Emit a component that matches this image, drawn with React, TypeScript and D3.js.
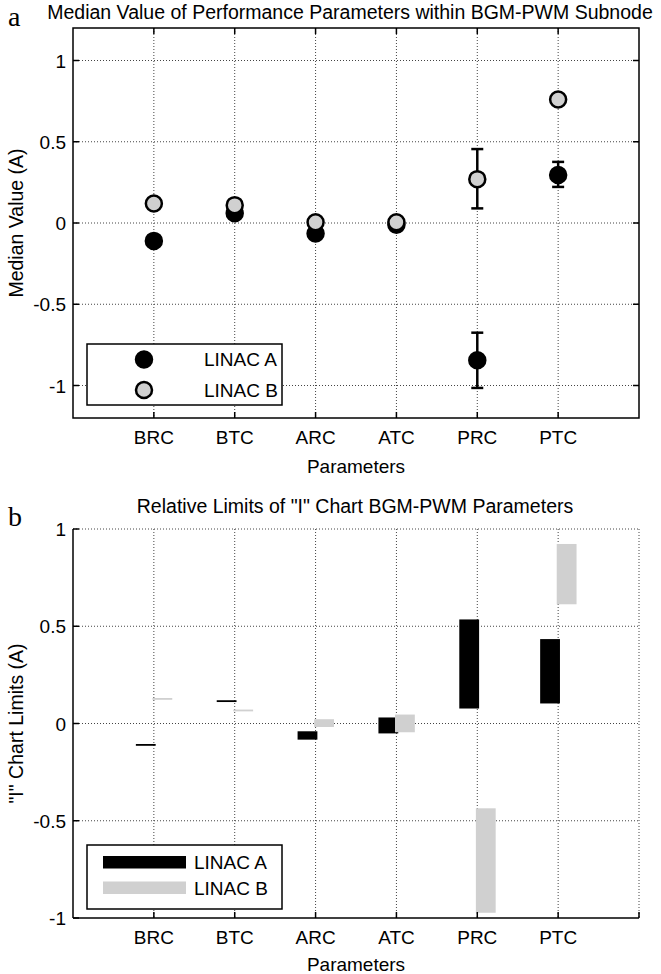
import React from "react";
import * as d3 from "d3";

const categories = ["BRC", "BTC", "ARC", "ATC", "PRC", "PTC"];
const medianA = [-0.11, 0.06, -0.065, -0.01, -0.845, 0.295];
const medianB = [0.12, 0.11, 0.005, 0.005, 0.27, 0.76];
const errLowA: (number | null)[] = [null, null, null, null, -1.015, 0.222];
const errHighA: (number | null)[] = [null, null, null, null, -0.675, 0.376];
const errLowB: (number | null)[] = [null, null, null, null, 0.09, null];
const errHighB: (number | null)[] = [null, null, null, null, 0.455, null];

const limLowA = [-0.112, 0.113, -0.083, -0.051, 0.077, 0.103];
const limHighA = [-0.108, 0.117, -0.04, 0.031, 0.535, 0.434];
const limLowB = [0.125, 0.066, -0.018, -0.045, -0.973, 0.613];
const limHighB = [0.128, 0.068, 0.022, 0.046, -0.436, 0.923];

const yTicks = [-1, -0.5, 0, 0.5, 1];
const yTickLabels = ["-1", "-0.5", "0", "0.5", "1"];
const seriesNames = ["LINAC A", "LINAC B"];

const FONT = "'Liberation Sans', Arial, sans-serif";
const GRAY = "#d0d0d0";
const W = 661;
const H = 974;
const L = 73;
const R = 639;

export default function App() {
  const x = d3.scaleLinear().domain([0, 7]).range([L, R]);
  const y1 = d3.scaleLinear().domain([-1.2, 1.2]).range([418, 28]);
  const y2 = d3.scaleLinear().domain([-1, 1]).range([918, 529]);
  const idx = categories.map((_, i) => i + 1);
  const grid = { stroke: "#444", strokeWidth: 1, strokeDasharray: "1 2" };
  const bw = 0.245;

  const errBars = (lo: (number | null)[], hi: (number | null)[], key: string) =>
    idx.map((c, i) => {
      const a = lo[i];
      const b = hi[i];
      if (a === null || b === null) return null;
      const cx = x(c);
      return (
        <g key={key + i} stroke="#000" strokeWidth={2.5}>
          <line x1={cx} x2={cx} y1={y1(a)} y2={y1(b)} />
          <line x1={cx - 6} x2={cx + 6} y1={y1(a)} y2={y1(a)} />
          <line x1={cx - 6} x2={cx + 6} y1={y1(b)} y2={y1(b)} />
        </g>
      );
    });

  const bars = (lo: number[], hi: number[], off: number, fill: string, key: string) =>
    idx.map((c, i) => {
      const top = y2(Math.max(lo[i], hi[i]));
      const bot = y2(Math.min(lo[i], hi[i]));
      const h = Math.max(bot - top, 1.8);
      return (
        <rect
          key={key + i}
          x={x(c + off - bw / 2)}
          width={x(bw) - x(0)}
          y={(top + bot) / 2 - h / 2}
          height={h}
          fill={fill}
        />
      );
    });

  return (
    <svg width={W} height={H} style={{ position: "absolute", left: 0, top: 0, background: "#fff" }} fontFamily={FONT}>
      <rect width={W} height={H} fill="#fff" />
      {/* Panel a */}
      <text x={8} y={26} fontFamily="'Liberation Serif', 'Times New Roman', serif" fontSize={28}>a</text>
      <text x={350} y={19} fontSize={19.5} textAnchor="middle">
        Median Value of Performance Parameters within BGM-PWM Subnode
      </text>
      <g>
        {yTicks.map((t) => (
          <line key={"ag" + t} x1={L} x2={R} y1={y1(t)} y2={y1(t)} {...grid} />
        ))}
        {idx.map((c) => (
          <line key={"avg" + c} x1={x(c)} x2={x(c)} y1={y1(1.2)} y2={y1(-1.2)} {...grid} />
        ))}
        <rect x={L} y={y1(1.2)} width={R - L} height={y1(-1.2) - y1(1.2)} fill="none" stroke="#000" strokeWidth={1.5} />
        {idx.map((c) => (
          <g key={"at" + c} stroke="#000" strokeWidth={1.5}>
            <line x1={x(c)} x2={x(c)} y1={y1(-1.2)} y2={y1(-1.2) - 6} />
            <line x1={x(c)} x2={x(c)} y1={y1(1.2)} y2={y1(1.2) + 6} />
          </g>
        ))}
        {yTicks.map((t) => (
          <g key={"ayt" + t} stroke="#000" strokeWidth={1.5}>
            <line x1={L} x2={L + 6} y1={y1(t)} y2={y1(t)} />
            <line x1={R} x2={R - 6} y1={y1(t)} y2={y1(t)} />
          </g>
        ))}
        {yTicks.map((t, i) => (
          <text key={"ayl" + t} x={66} y={y1(t) + 7} fontSize={19} textAnchor="end">
            {yTickLabels[i]}
          </text>
        ))}
        {idx.map((c, i) => (
          <text key={"axl" + c} x={x(c)} y={444} fontSize={19} textAnchor="middle">
            {categories[i]}
          </text>
        ))}
        <text x={(L + R) / 2} y={473} fontSize={19} textAnchor="middle">Parameters</text>
        <text transform={`translate(23,${y1(0)}) rotate(-90)`} fontSize={19.5} textAnchor="middle">
          Median Value (A)
        </text>
        {errBars(errLowA, errHighA, "ea")}
        {errBars(errLowB, errHighB, "eb")}
        {idx.map((c, i) => (
          <circle key={"ma" + c} cx={x(c)} cy={y1(medianA[i])} r={8} fill="#000" stroke="#000" strokeWidth={2.5} />
        ))}
        {idx.map((c, i) => (
          <circle key={"mb" + c} cx={x(c)} cy={y1(medianB[i])} r={8} fill={GRAY} stroke="#000" strokeWidth={2.5} />
        ))}
        {/* legend a */}
        <rect x={87} y={344} width={195} height={61} fill="#fff" stroke="#000" strokeWidth={1.5} />
        <circle cx={144} cy={359.5} r={8} fill="#000" stroke="#000" strokeWidth={2.5} />
        <circle cx={144} cy={390} r={8} fill={GRAY} stroke="#000" strokeWidth={2.5} />
        <text x={204} y={366} fontSize={19}>{seriesNames[0]}</text>
        <text x={204} y={396.5} fontSize={19}>{seriesNames[1]}</text>
      </g>

      {/* Panel b */}
      <text x={8} y={526} fontFamily="'Liberation Serif', 'Times New Roman', serif" fontSize={28}>b</text>
      <text x={355} y={513} fontSize={19.5} textAnchor="middle">
        Relative Limits of "I" Chart BGM-PWM Parameters
      </text>
      <g>
        {yTicks.filter((t) => t > -1).map((t) => (
          <line key={"bg" + t} x1={L} x2={R} y1={y2(t)} y2={y2(t)} {...grid} />
        ))}
        {[...idx, 7].map((c) => (
          <line key={"bvg" + c} x1={x(c)} x2={x(c)} y1={y2(1)} y2={y2(-1)} {...grid} />
        ))}
        {bars(limLowA, limHighA, -0.1, "#000", "ba")}
        {bars(limLowB, limHighB, 0.105, GRAY, "bb")}
        <line x1={L} x2={L} y1={y2(1)} y2={y2(-1)} stroke="#000" strokeWidth={1.5} />
        <line x1={L} x2={R} y1={y2(-1)} y2={y2(-1)} stroke="#000" strokeWidth={1.5} />
        {[...idx, 7].map((c) => (
          <line key={"bt" + c} x1={x(c)} x2={x(c)} y1={y2(-1)} y2={y2(-1) - 6} stroke="#000" strokeWidth={1.5} />
        ))}
        {yTicks.map((t) => (
          <line key={"byt" + t} x1={L} x2={L + 6} y1={y2(t)} y2={y2(t)} stroke="#000" strokeWidth={1.5} />
        ))}
        {yTicks.map((t, i) => (
          <text key={"byl" + t} x={66} y={y2(t) + 7} fontSize={19} textAnchor="end">
            {yTickLabels[i]}
          </text>
        ))}
        {idx.map((c, i) => (
          <text key={"bxl" + c} x={x(c)} y={944} fontSize={19} textAnchor="middle">
            {categories[i]}
          </text>
        ))}
        <text x={(L + R) / 2} y={971} fontSize={19} textAnchor="middle">Parameters</text>
        <text transform={`translate(23,${y2(0)}) rotate(-90)`} fontSize={19.5} textAnchor="middle">
          "I" Chart Limits (A)
        </text>
        {/* legend b */}
        <rect x={87} y={845} width={195} height={64} fill="#fff" stroke="#000" strokeWidth={1.5} />
        <rect x={103} y={856} width={83} height={12.5} fill="#000" />
        <rect x={103} y={881.5} width={83} height={12.5} fill={GRAY} />
        <text x={194} y={869} fontSize={19}>{seriesNames[0]}</text>
        <text x={194} y={894.5} fontSize={19}>{seriesNames[1]}</text>
      </g>
    </svg>
  );
}
